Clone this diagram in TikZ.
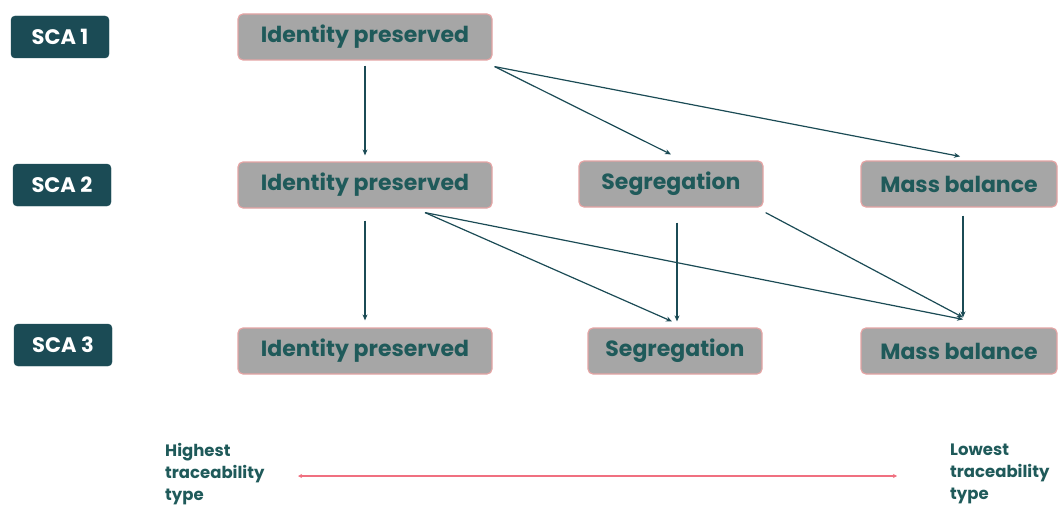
\documentclass[tikz,border=0pt]{standalone}
\usepackage{fontspec}
\setmainfont{Poppins}
\usetikzlibrary{arrows.meta,calc}
\definecolor{teal}{HTML}{1B4B55}
\definecolor{txt}{HTML}{1F5A5A}
\definecolor{boxfill}{HTML}{A6A6A6}
\definecolor{boxline}{HTML}{E4A4A4}
\definecolor{pinkline}{HTML}{F07080}
\tikzset{
  sca/.style={draw=teal, fill=teal, rounded corners=4pt, minimum width=98pt, minimum height=42pt, text=white, font=\bfseries\fontsize{21}{24}\selectfont, inner sep=0pt},
  box/.style={draw=boxline, line width=1.2pt, fill=boxfill, rounded corners=5pt, minimum height=46pt, text=txt, font=\bfseries\fontsize{22}{25}\selectfont, inner sep=0pt},
  conn/.style={draw=teal, line width=1.2pt, -{Stealth[length=6pt,width=5pt]}},
  side/.style={text=txt, font=\bfseries\fontsize{16.5}{22}\selectfont, align=left, anchor=west, inner sep=0pt}
}
\begin{document}
\begin{tikzpicture}[x=1pt,y=-1pt]
\useasboundingbox (0,0) rectangle (1059,508);
\node[sca] (s1) at (60,37) {SCA 1};
\node[sca] (s2) at (62,185) {SCA 2};
\node[sca] (s3) at (63,345) {SCA 3};
\node[box, minimum width=254pt] (id1) at (365,37) {Identity preserved};
\node[box, minimum width=254pt] (id2) at (365,185) {Identity preserved};
\node[box, minimum width=254pt] (id3) at (365,351) {Identity preserved};
\node[box, minimum width=184pt] (sg2) at (671,184) {Segregation};
\node[box, minimum width=196pt] (mb2) at (959,184) {Mass balance};
\node[box, minimum width=174pt] (sg3) at (675,351) {Segregation};
\node[box, minimum width=196pt] (mb3) at (959,351) {Mass balance};
\coordinate (a1) at ($(id1.south east)+(2,6)$);
\coordinate (a2) at ($(id2.south)+(60,4)$);
\coordinate (a3) at ($(sg2.south east)+(2,5)$);
\draw[conn] ($(id1.south)+(0,5)$) -- ($(id2.north)+(0,-6)$);
\draw[conn] (a1) -- ($(sg2.north)+(0,-6)$);
\draw[conn] (a1) -- ($(mb2.north)+(1,-4)$);
\draw[conn] ($(id2.south)+(0,12)$) -- ($(id3.north)+(0,-7)$);
\draw[conn] (a2) -- ($(sg3.north)+(-3,-6)$);
\draw[conn] (a2) -- ($(mb3.north)+(4,-8)$);
\draw[conn] ($(sg2.south)+(6,15)$) -- ($(sg3.north)+(2,-6)$);
\draw[conn] (a3) -- ($(mb3.north)+(4,-10)$);
\draw[conn] ($(mb2.south)+(4,8)$) -- ($(mb3.north)+(4,-10)$);
\node[side] (hi) at (165,474) {Highest\\traceability\\type};
\node[side] (lo) at (950,474) {Lowest\\traceability\\type};
\coordinate (la) at (298,476);
\coordinate (lb) at (897,476);
\draw[pinkline, line width=1.5pt, {Stealth[length=4pt,width=4pt]}-{Stealth[length=4pt,width=4pt]}] (la) -- (lb);
\end{tikzpicture}
\end{document}
